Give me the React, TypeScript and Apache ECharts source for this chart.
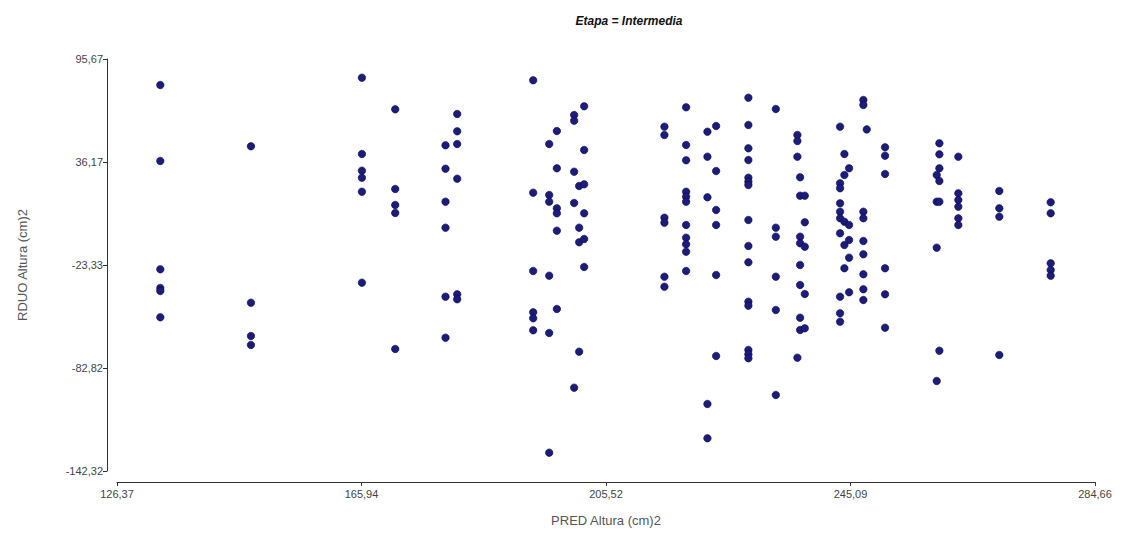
import React, { useEffect, useRef } from "react";
import * as echarts from "echarts";

const chartTitle = "Etapa = Intermedia";
const xName = "PRED Altura (cm)2";
const yName = "RDUO Altura (cm)2";
const xTicks = [126.37, 165.94, 205.52, 245.09, 284.66];
const yTicks = [-142.32, -82.82, -23.33, 36.17, 95.67];

// Predicted values (x) – one entry per vertical column of points
const predValues = [
  133.38, 148.05, 166.01, 171.4, 179.54, 181.43, 193.73, 196.32, 197.56, 200.36,
  201.17, 201.98, 214.97, 218.48, 221.93, 223.34, 228.56, 233.0, 236.49, 236.93,
  237.69, 243.4, 244.1, 244.86, 247.17, 247.72, 250.68, 259.04, 259.47, 262.54,
  269.17, 277.49,
];

// Residuals (y) for each predicted value above
const rduoValues = [
  [80.65, 36.75, -25.8, -36.6, -38.33, -53.52],
  [45.25, -45.09, -64.33, -69.52],
  [84.87, 40.8, 31.15, 27.11, 19.02, -33.54],
  [66.62, 20.58, 11.34, 6.72, -71.83],
  [45.82, 32.31, 13.25, -1.77, -41.62, -65.31],
  [63.9, 53.91, 46.57, 26.53, -40.24, -43.13],
  [83.37, 18.45, -26.78, -50.64, -54.1, -61.03],
  [46.57, 17.12, 13.25, -29.5, -62.59, -131.73],
  [54.08, 32.54, 9.43, 6.55, -3.5, -48.73],
  [63.32, 60.03, 30.57, 12.5, -94.19],
  [22.32, -1.77, -10.2, -73.39],
  [68.35, 43.11, 23.3, 6.55, -8.3, -24.47],
  [56.57, 51.77, 4.01, 1.12, -30.07, -35.85],
  [67.77, 46.0, 37.16, 19.02, 16.13, 13.25, -0.21, -7.55, -11.36, -15.63, -26.78],
  [53.68, 39.24, 15.79, -103.6, -123.41],
  [56.97, 30.98, 8.45, -0.21, -29.09, -75.88],
  [73.32, 57.55, 44.09, 37.33, 27.11, 24.8, 22.89, 2.68, -12.34, -21.76, -44.51, -46.82, -72.41, -74.9, -77.21],
  [66.79, -1.77, -6.97, -30.07, -49.31, -98.4],
  [51.77, 48.31, 39.24, -76.86],
  [27.34, 16.71, -6.97, -10.78, -23.32, -34.87, -53.76, -60.86],
  [16.71, 1.35, -12.75, -40.07, -59.88],
  [56.57, 23.87, 20.99, 12.32, 7.47, 3.66, -5.01, -41.62, -51.21, -56.06],
  [40.8, 28.67, 1.69, -11.76, -25.22],
  [32.54, -0.21, -8.88, -19.1, -39.08],
  [71.99, 69.1, 7.47, 3.66, -9.45, -17.14, -28.69, -37.35, -43.53],
  [55.0],
  [44.67, 39.82, 29.25, -25.22, -40.24, -59.53],
  [28.67, 13.25, -13.32, -90.32],
  [46.98, 40.62, 32.54, 25.2, 13.25, -72.82],
  [39.24, 18.1, 14.23, 10.36, 3.66, -0.21],
  [19.43, 9.43, 4.58, -75.3],
  [12.9, 6.55, -22.33, -26.2, -29.5],
];

const FONT = "'Liberation Sans', Arial, sans-serif";

export default function App() {
  const ref = useRef<HTMLDivElement>(null);
  useEffect(() => {
    if (!ref.current) return;
    const chart = echarts.init(ref.current, null, { renderer: "svg" });
    const data: number[][] = [];
    predValues.forEach((x, i) => rduoValues[i].forEach((y) => data.push([x, y])));
    const fmt = (v: number) => Number(v).toFixed(2).replace(".", ",");
    chart.setOption({
      animation: false,
      backgroundColor: "#ffffff",
      title: {
        text: chartTitle,
        left: 624,
        top: 10,
        textAlign: "center",
        textStyle: { fontFamily: FONT, fontSize: 12, fontWeight: "bold", fontStyle: "italic", color: "#111" },
      },
      grid: { left: 117, right: 31, top: 59, bottom: 69, containLabel: false },
      xAxis: {
        type: "value",
        min: xTicks[0],
        max: xTicks[xTicks.length - 1],
        offset: 11,
        name: xName,
        nameLocation: "middle",
        nameGap: 32,
        nameTextStyle: { fontFamily: FONT, fontSize: 13, color: "#555" },
        splitLine: { show: false },
        axisLine: { show: true, onZero: false, lineStyle: { color: "#333", width: 1 } },
        axisTick: { show: true, length: 4, customValues: xTicks, lineStyle: { color: "#333" } },
        axisLabel: { customValues: xTicks, formatter: fmt, fontFamily: FONT, fontSize: 11, color: "#444", margin: 6 },
      },
      yAxis: {
        type: "value",
        min: yTicks[0],
        max: yTicks[yTicks.length - 1],
        offset: 10,
        name: yName,
        nameLocation: "middle",
        nameGap: 78,
        nameTextStyle: { fontFamily: FONT, fontSize: 13, color: "#555" },
        splitLine: { show: false },
        axisLine: { show: true, onZero: false, lineStyle: { color: "#333", width: 1 } },
        axisTick: { show: true, length: 4, customValues: yTicks, lineStyle: { color: "#333" } },
        axisLabel: { customValues: yTicks, formatter: fmt, fontFamily: FONT, fontSize: 11, color: "#444", margin: 4 },
      },
      series: [
        {
          type: "scatter",
          data,
          symbol: "circle",
          symbolSize: 7.5,
          itemStyle: { color: "#1c1c7e", borderColor: "#0b0b40", borderWidth: 0.6, opacity: 1 },
        },
      ],
    });
    return () => chart.dispose();
  }, []);
  return (
    <div
      ref={ref}
      style={{ position: "absolute", left: 0, top: 0, width: 1126, height: 540, background: "#fff" }}
    />
  );
}
